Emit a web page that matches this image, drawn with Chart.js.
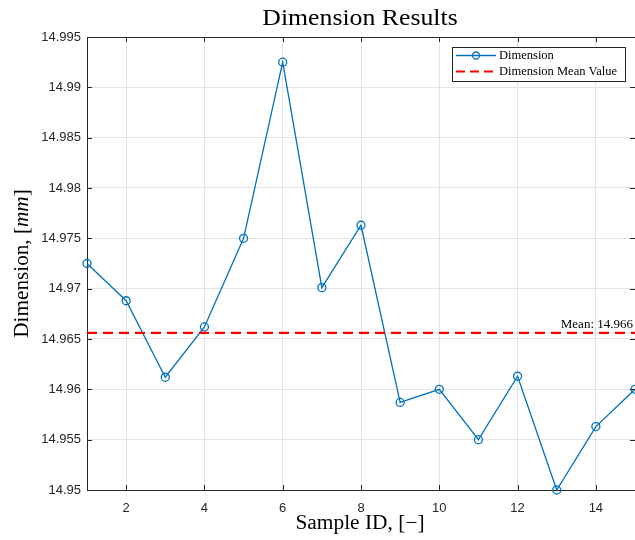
<!DOCTYPE html>
<html>
<head>
<meta charset="utf-8">
<script src="https://cdn.jsdelivr.net/npm/chart.js@4/dist/chart.umd.min.js"></script>
<style>
html,body{margin:0;padding:0;background:#fff;}
#wrap{width:635px;height:540px;position:relative;}
</style>
</head>
<body>
<div id="wrap"><canvas id="c" width="635" height="540"></canvas></div>
<script>
// ---- data ----
const sampleIds = [1,2,3,4,5,6,7,8,9,10,11,12,13,14,15];
const dimensionValues = [14.9725,14.9688,14.9612,14.9662,14.9750,14.9925,14.9701,14.9763,14.9587,14.9600,14.9550,14.9613,14.9500,14.9563,14.9600];
const meanValue = 14.9656;
const xTicks = [2,4,6,8,10,12,14];
const yTicks = [14.95,14.955,14.96,14.965,14.97,14.975,14.98,14.985,14.99,14.995];
const titleText = 'Dimension Results';
const seriesName = 'Dimension';
const meanName = 'Dimension Mean Value';

const BLUE = '#0072BD', RED = '#FF0000', AX = '#262626';
const SERIF = '"Liberation Serif","DejaVu Serif",serif';
const SANS = '"Liberation Sans",Arial,sans-serif';

const dimPoints = sampleIds.map((x,i)=>({x:x,y:dimensionValues[i]}));
const meanPoints = [{x:sampleIds[0],y:meanValue},{x:sampleIds[sampleIds.length-1],y:meanValue}];

function wideText(ctx, txt, cx, cy, sx){
  ctx.save();
  ctx.translate(cx, cy);
  ctx.scale(sx, 1);
  ctx.fillText(txt, 0, 0);
  ctx.restore();
}

const deco = {
  id:'deco',
  afterDraw(chart){
    const ctx = chart.ctx, a = chart.chartArea;
    const xs = chart.scales.x, ys = chart.scales.y;
    ctx.save();
    // top axis line
    ctx.strokeStyle = AX; ctx.lineWidth = 1;
    ctx.beginPath(); ctx.moveTo(a.left, a.top+0.5); ctx.lineTo(a.right, a.top+0.5); ctx.stroke();
    // inward ticks
    const TL = 5;
    ctx.beginPath();
    xTicks.forEach(v=>{
      const px = Math.round(xs.getPixelForValue(v))+0.5;
      ctx.moveTo(px, a.top); ctx.lineTo(px, a.top+TL);
      ctx.moveTo(px, a.bottom); ctx.lineTo(px, a.bottom-TL);
    });
    yTicks.forEach(v=>{
      const py = Math.round(ys.getPixelForValue(v))+0.5;
      ctx.moveTo(a.left, py); ctx.lineTo(a.left+TL, py);
      ctx.moveTo(a.right, py); ctx.lineTo(a.right-TL, py);
    });
    ctx.stroke();

    // mean label
    ctx.fillStyle = '#000';
    ctx.font = '13px '+SERIF;
    ctx.textAlign = 'right'; ctx.textBaseline = 'alphabetic';
    ctx.fillText('Mean: '+meanValue.toFixed(3), 633, ys.getPixelForValue(meanValue)-5);

    // title
    ctx.font = '23px '+SERIF;
    ctx.textAlign = 'center'; ctx.textBaseline = 'middle';
    ctx.fillStyle = '#000';
    wideText(ctx, titleText, 360, 19, 1.12);

    // x title
    ctx.font = '20px '+SERIF;
    wideText(ctx, 'Sample ID, [\u2212]', 360, 524, 1.07);

    // y title with italic mm
    ctx.save();
    ctx.translate(23, (a.top+a.bottom)/2);
    ctx.rotate(-Math.PI/2);
    ctx.scale(1.06, 1);
    const p1 = 'Dimension, [', p2 = 'mm', p3 = ']';
    const fN = '20px '+SERIF, fI = 'italic 20px '+SERIF;
    ctx.font = fN; const w1 = ctx.measureText(p1).width, w3 = ctx.measureText(p3).width;
    ctx.font = fI; const w2 = ctx.measureText(p2).width;
    let x0 = -(w1+w2+w3)/2;
    ctx.textAlign = 'left';
    ctx.font = fN; ctx.fillText(p1, x0, 0); x0 += w1;
    ctx.font = fI; ctx.fillText(p2, x0, 0); x0 += w2;
    ctx.font = fN; ctx.fillText(p3, x0, 0);
    ctx.restore();

    // legend
    const lx = 452, ly = 47, lw = 173, lh = 34;
    ctx.fillStyle = '#fff';
    ctx.fillRect(lx, ly, lw, lh);
    ctx.strokeStyle = AX; ctx.lineWidth = 1;
    ctx.strokeRect(lx+0.5, ly+0.5, lw, lh);
    ctx.strokeStyle = BLUE; ctx.lineWidth = 1.3;
    ctx.beginPath(); ctx.moveTo(456, 55.5); ctx.lineTo(496, 55.5); ctx.stroke();
    ctx.beginPath(); ctx.arc(476, 55.5, 3.5, 0, Math.PI*2); ctx.stroke();
    ctx.strokeStyle = RED; ctx.lineWidth = 2.2;
    ctx.setLineDash([9,5]);
    ctx.beginPath(); ctx.moveTo(456, 71.5); ctx.lineTo(496, 71.5); ctx.stroke();
    ctx.setLineDash([]);
    ctx.fillStyle = '#000';
    ctx.font = '12.5px '+SERIF;
    ctx.textAlign = 'left'; ctx.textBaseline = 'middle';
    ctx.fillText(seriesName, 499, 55.5);
    ctx.fillText(meanName, 499, 71.5);
    ctx.restore();
  }
};

new Chart(document.getElementById('c'), {
  type:'line',
  data:{
    datasets:[
      {label:seriesName, data:dimPoints, borderColor:BLUE, backgroundColor:'rgba(0,0,0,0)',
       borderWidth:1.3, pointRadius:4, pointBorderWidth:1.3, pointBorderColor:BLUE,
       pointBackgroundColor:'rgba(0,0,0,0)', tension:0, clip:false, order:1},
      {label:meanName, data:meanPoints, borderColor:RED, borderWidth:2.2, borderDash:[10,6],
       pointRadius:0, tension:0, order:0}
    ]
  },
  options:{
    responsive:false, animation:false,
    layout:{autoPadding:false, padding:{left:0,right:0,top:37,bottom:0}},
    plugins:{legend:{display:false}, title:{display:false}, tooltip:{enabled:false}},
    scales:{
      x:{type:'linear', min:1, max:15,
         afterBuildTicks:s=>{s.ticks = xTicks.map(v=>({value:v}));},
         afterFit:s=>{s.height = 50; s.paddingLeft = 0; s.paddingRight = 0;},
         grid:{color:'#e3e3e3', drawTicks:false, lineWidth:1},
         border:{display:true, color:AX, width:1},
         ticks:{padding:11, color:AX, font:{family:SANS, size:13}, maxRotation:0,
                callback:v=>String(v)}},
      y:{type:'linear', min:14.95, max:14.995,
         afterBuildTicks:s=>{s.ticks = yTicks.map(v=>({value:v}));},
         afterFit:s=>{s.width = 87; s.paddingTop = 0; s.paddingBottom = 0;},
         grid:{color:'#e3e3e3', drawTicks:false, lineWidth:1},
         border:{display:true, color:AX, width:1},
         ticks:{padding:6, color:AX, font:{family:SANS, size:13},
                callback:v=>String(Number(v.toFixed(3)))}}
    }
  },
  plugins:[deco]
});
</script>
</body>
</html>
